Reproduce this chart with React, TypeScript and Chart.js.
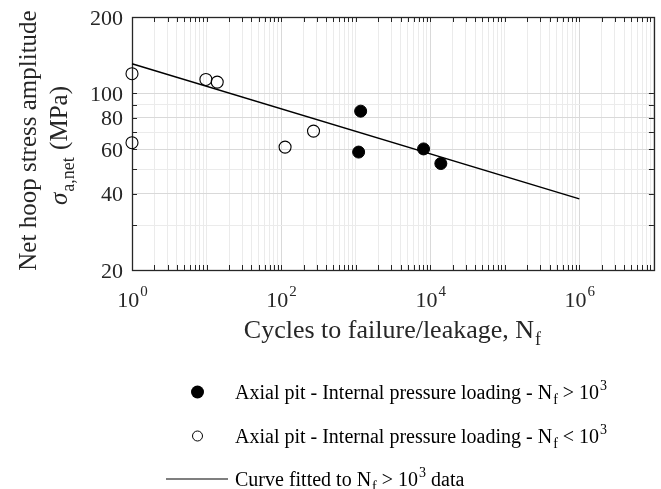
import { useEffect, useRef } from "react";
import { Chart, registerables } from "chart.js";

Chart.register(...registerables);

// ---- data ----
const filledX = [1166, 1096, 8140, 13870];
const filledY = [84.9, 58.5, 60.2, 52.7];
const openX = [1, 1, 9.8, 13.9, 113, 272];
const openY = [119.4, 63.7, 113.3, 110.6, 61.2, 70.8];
const fitX = [1, 1e6];
const fitY = [130.7, 38.2];

const xMajorTicks = [1, 1e2, 1e4, 1e6];
const xMajorExp = ["0", "2", "4", "6"];
const yLabelTicks = [20, 40, 60, 80, 100, 200];

const legendLabels = [
  { main: "Axial pit - Internal pressure loading - N", sub: "f", rest: " > 10", sup: "3", tail: "" },
  { main: "Axial pit - Internal pressure loading - N", sub: "f", rest: " < 10", sup: "3", tail: "" },
  { main: "Curve fitted to N", sub: "f", rest: " > 10", sup: "3", tail: " data" },
];

const FONT = "'Liberation Serif', 'Times New Roman', serif";
const AXIS_COLOR = "#262626";

function logTicks(min: number, max: number) {
  const out: number[] = [];
  let p = Math.pow(10, Math.floor(Math.log10(min)));
  while (p <= max) {
    for (let k = 1; k <= 9; k++) {
      const v = k * p;
      if (v >= min * 0.9999 && v <= max * 1.0001) out.push(v);
    }
    p *= 10;
  }
  return out;
}

const isMajorX = (v: number) => xMajorTicks.some((m) => Math.abs(v / m - 1) < 1e-6);
const isLabelY = (v: number) => yLabelTicks.some((m) => Math.abs(v / m - 1) < 1e-6);

const decoPlugin = {
  id: "deco",
  beforeDatasetsDraw(chart: any) {
    const { ctx, chartArea: a, scales } = chart;
    const xs = scales.x;
    const ys = scales.y;
    ctx.save();
    ctx.strokeStyle = AXIS_COLOR;
    ctx.lineWidth = 1;
    ctx.beginPath();
    const tl = 5;
    for (const t of xs.ticks) {
      const px = Math.round(xs.getPixelForValue(t.value)) + 0.5;
      ctx.moveTo(px, a.bottom);
      ctx.lineTo(px, a.bottom - tl);
      ctx.moveTo(px, a.top);
      ctx.lineTo(px, a.top + tl);
    }
    for (const t of ys.ticks) {
      const py = Math.round(ys.getPixelForValue(t.value)) + 0.5;
      ctx.moveTo(a.left, py);
      ctx.lineTo(a.left + tl, py);
      ctx.moveTo(a.right, py);
      ctx.lineTo(a.right - tl, py);
    }
    ctx.stroke();
    ctx.lineWidth = 1.3;
    ctx.strokeRect(Math.round(a.left) + 0.5, Math.round(a.top) + 0.5, Math.round(a.right - a.left), Math.round(a.bottom - a.top));
    ctx.restore();
  },
  afterDraw(chart: any) {
    const { ctx, chartArea: a, scales } = chart;
    const xs = scales.x;
    const ys = scales.y;
    ctx.save();
    ctx.fillStyle = AXIS_COLOR;
    ctx.textBaseline = "alphabetic";

    // y tick labels
    ctx.font = `22px ${FONT}`;
    ctx.textAlign = "right";
    for (const t of ys.ticks) {
      if (!isLabelY(t.value)) continue;
      const py = ys.getPixelForValue(t.value);
      ctx.fillText(String(t.value), a.left - 9, py + 7.5);
    }

    // x tick labels: 10^k
    ctx.textAlign = "left";
    xMajorTicks.forEach((v, i) => {
      const px = xs.getPixelForValue(v);
      ctx.font = `22px ${FONT}`;
      const wb = ctx.measureText("10").width;
      ctx.font = `15px ${FONT}`;
      const ws = ctx.measureText(xMajorExp[i]).width;
      const x0 = px - (wb + ws) / 2;
      ctx.font = `22px ${FONT}`;
      ctx.fillText("10", x0, a.bottom + 37);
      ctx.font = `15px ${FONT}`;
      ctx.fillText(xMajorExp[i], x0 + wb + 1, a.bottom + 26);
    });

    // x title
    {
      ctx.font = `26px ${FONT}`;
      const t1 = "Cycles to failure/leakage, N";
      const w1 = ctx.measureText(t1).width;
      ctx.font = `18px ${FONT}`;
      const w2 = ctx.measureText("f").width;
      const cx = (a.left + a.right) / 2 - 1;
      const x0 = cx - (w1 + w2) / 2;
      ctx.font = `26px ${FONT}`;
      ctx.fillText(t1, x0, a.bottom + 68);
      ctx.font = `18px ${FONT}`;
      ctx.fillText("f", x0 + w1 + 1, a.bottom + 75);
    }

    // y title (rotated)
    {
      const cy = (a.top + a.bottom) / 2;
      ctx.save();
      ctx.translate(36, cy - 3);
      ctx.rotate(-Math.PI / 2);
      ctx.font = `25px ${FONT}`;
      ctx.textAlign = "center";
      ctx.fillText("Net hoop stress amplitude", 0, 0);
      ctx.restore();

      ctx.save();
      ctx.translate(67, cy + 2);
      ctx.rotate(-Math.PI / 2);
      ctx.textAlign = "left";
      ctx.font = `italic 25px ${FONT}`;
      const ws = ctx.measureText("σ").width;
      ctx.font = `18px ${FONT}`;
      const wsub = ctx.measureText("a,net").width;
      ctx.font = `25px ${FONT}`;
      const wm = ctx.measureText(" (MPa)").width;
      const total = ws + wsub + wm + 2;
      let x = -total / 2;
      ctx.font = `italic 25px ${FONT}`;
      ctx.fillText("σ", x, 0);
      x += ws + 1;
      ctx.font = `18px ${FONT}`;
      ctx.fillText("a,net", x, 7);
      x += wsub + 1;
      ctx.font = `25px ${FONT}`;
      ctx.fillText(" (MPa)", x, 0);
      ctx.restore();
    }

    // legend
    const rows = [399, 443, 486];
    const textX = 235;
    ctx.fillStyle = "#000";
    ctx.strokeStyle = "#000";
    ctx.beginPath();
    ctx.arc(197.5, rows[0] - 7, 6.5, 0, Math.PI * 2);
    ctx.fill();
    ctx.beginPath();
    ctx.lineWidth = 1;
    ctx.arc(197.5, rows[1] - 7, 5, 0, Math.PI * 2);
    ctx.stroke();
    ctx.beginPath();
    ctx.lineWidth = 1.2;
    ctx.moveTo(166, rows[2] - 7);
    ctx.lineTo(228, rows[2] - 7);
    ctx.stroke();

    legendLabels.forEach((l, i) => {
      const y = rows[i];
      let x = textX;
      ctx.textAlign = "left";
      ctx.font = `20px ${FONT}`;
      ctx.fillText(l.main, x, y);
      x += ctx.measureText(l.main).width + 1;
      ctx.font = `14px ${FONT}`;
      ctx.fillText(l.sub, x, y + 5);
      x += ctx.measureText(l.sub).width;
      ctx.font = `20px ${FONT}`;
      ctx.fillText(l.rest, x, y);
      x += ctx.measureText(l.rest).width + 1;
      ctx.font = `14px ${FONT}`;
      ctx.fillText(l.sup, x, y - 9);
      x += ctx.measureText(l.sup).width;
      if (l.tail) {
        ctx.font = `20px ${FONT}`;
        ctx.fillText(l.tail, x, y);
      }
    });
    ctx.restore();
  },
};

export default function App() {
  const ref = useRef<HTMLCanvasElement | null>(null);
  useEffect(() => {
    document.body.style.margin = "0";
    const canvas = ref.current!;
    const chart = new Chart(canvas, {
      type: "scatter",
      data: {
        datasets: [
          {
            label: "fit",
            type: "line",
            data: fitX.map((x, i) => ({ x, y: fitY[i] })),
            borderColor: "#000",
            borderWidth: 1.4,
            pointRadius: 0,
            fill: false,
            clip: false,
          } as any,
          {
            label: "Nf > 1e3",
            data: filledX.map((x, i) => ({ x, y: filledY[i] })),
            backgroundColor: "#000",
            borderColor: "#000",
            borderWidth: 1,
            pointRadius: 6,
            clip: false,
          } as any,
          {
            label: "Nf < 1e3",
            data: openX.map((x, i) => ({ x, y: openY[i] })),
            backgroundColor: "rgba(255,255,255,0)",
            borderColor: "#000",
            borderWidth: 1.1,
            pointRadius: 6,
            clip: false,
          } as any,
        ],
      },
      options: {
        animation: false,
        responsive: false,
        maintainAspectRatio: false,
        layout: { padding: { left: 132, top: 17, right: 5, bottom: 219 } },
        plugins: { legend: { display: false }, tooltip: { enabled: false } },
        scales: {
          x: {
            type: "logarithmic",
            min: 1,
            max: 1e7,
            afterBuildTicks: (s: any) => {
              s.ticks = logTicks(1, 1e7).map((v) => ({ value: v }));
            },
            ticks: { display: false },
            border: { display: false },
            grid: {
              drawTicks: false,
              tickLength: 0,
              color: (c: any) => (c.tick && isMajorX(c.tick.value) ? "#d9d9d9" : "#ebebeb"),
              lineWidth: 1,
            },
          },
          y: {
            type: "logarithmic",
            min: 20,
            max: 200,
            afterBuildTicks: (s: any) => {
              s.ticks = logTicks(20, 200).map((v) => ({ value: v }));
            },
            ticks: { display: false },
            border: { display: false },
            grid: {
              drawTicks: false,
              tickLength: 0,
              color: (c: any) => (c.tick && isLabelY(c.tick.value) ? "#d9d9d9" : "#ebebeb"),
              lineWidth: 1,
            },
          },
        },
      },
      plugins: [decoPlugin],
    } as any);
    return () => chart.destroy();
  }, []);
  return (
    <div style={{ position: "absolute", left: 0, top: 0, width: 661, height: 489, background: "#fff" }}>
      <canvas ref={ref} width={661} height={489} style={{ display: "block" }} />
    </div>
  );
}
